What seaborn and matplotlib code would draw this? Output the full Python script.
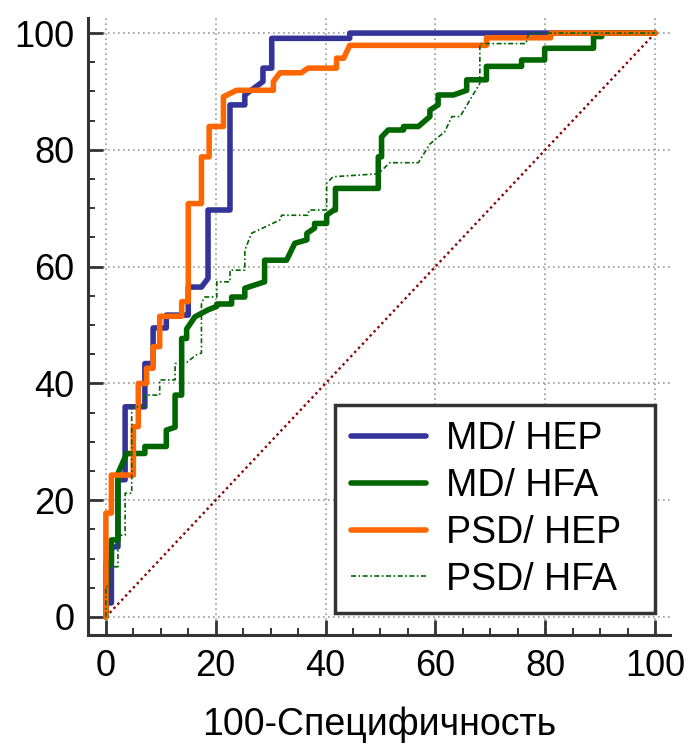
import seaborn as sns
import matplotlib.pyplot as plt
from matplotlib.ticker import MultipleLocator

# ROC curve vertices (100-specificity, sensitivity)
md_hep = [(0, 0), (0, 2.4), (1, 2.4), (1, 12), (2.2, 12), (2.2, 23.5), (3.5, 23.5),
          (3.5, 36), (7.1, 36), (7.1, 43.4), (8.6, 43.4), (8.6, 49.5), (11, 49.5),
          (11, 51.7), (15, 51.7), (15, 56.5), (17.4, 56.5), (18.6, 58), (18.6, 69.7),
          (22.6, 69.7), (22.6, 87.7), (25.3, 87.7), (25.3, 89.4), (28.6, 91.7),
          (28.6, 94), (30.2, 94), (30.2, 99.1), (44.4, 99.1), (44.4, 100), (100, 100)]

md_hfa = [(0, 0), (0, 9.2), (1, 9.2), (1, 13.2), (2.2, 13.2), (2.2, 24.6), (3.8, 28),
          (7.1, 28), (7.1, 29.2), (11, 29.2), (11, 32), (12.6, 32.5), (12.6, 38),
          (13.8, 38), (13.8, 47.7), (14.7, 47.7), (14.7, 49.3), (16.2, 51.4),
          (18.6, 52.6), (20.2, 53.2), (20.2, 53.6), (22.9, 53.6), (22.9, 54.8),
          (25.3, 54.8), (25.3, 56.3), (28.9, 57.4), (28.9, 61.1), (32.9, 61.1),
          (34.4, 64), (36.6, 64.6), (36.6, 65.7), (38, 66.6), (38, 67.4), (40.2, 67.4),
          (40.2, 68.8), (41.5, 69.7), (41.8, 69.7), (41.8, 73.4), (49.6, 73.4),
          (49.6, 78.8), (50.2, 78.8), (50.2, 82.2), (51.4, 83.4), (54.2, 83.4),
          (54.2, 84), (56.9, 84), (59, 85.7), (59, 86.8), (60.5, 87.7), (60.5, 89.4),
          (63.3, 89.4), (65.7, 90.2), (65.7, 92), (69.3, 92), (69.3, 94.3), (75.7, 94.3),
          (75.7, 95.4), (79.9, 95.4), (79.9, 97.4), (88.8, 97.4), (88.8, 99.4),
          (90.3, 99.4), (90.3, 100), (100, 100)]

psd_hep = [(0, 0), (0, 17.8), (1, 17.8), (1, 24.3), (5, 24.3), (5, 32.6), (5.9, 32.6),
           (5.9, 40), (7.4, 40), (7.4, 42.6), (8.6, 42.6), (8.6, 46.3), (9.8, 46.3),
           (9.8, 51.5), (13.8, 51.5), (13.8, 54), (15, 54), (15, 70.8), (17.4, 70.8),
           (17.4, 78.8), (18.8, 78.8), (18.8, 84), (21.4, 84), (21.4, 89.1),
           (23.8, 90.2), (30.5, 90.2), (30.5, 91.7), (31.7, 93.2), (35.6, 93.2),
           (36.8, 94), (42, 94), (42, 95.7), (43.3, 95.7), (44.4, 97.9), (69.3, 97.9),
           (69.3, 99.2), (81, 99.2), (81, 100), (100, 100)]

psd_hfa = [(0, 0), (0, 5.2), (0.7, 5.2), (0.7, 8.6), (2.2, 8.6), (2.2, 14), (3.5, 14),
           (3.5, 21.2), (4.7, 21.2), (4.7, 36), (7.1, 36), (7.1, 38), (9.8, 38),
           (9.8, 40.6), (12.6, 40.6), (12.6, 43.4), (14.7, 43.6), (16.5, 44.9),
           (17.4, 45.2), (17.4, 53.8), (18, 54.8), (20.2, 54.8), (20.2, 57.4),
           (22.6, 57.4), (22.6, 59.4), (25.3, 59.4), (25.3, 62.8), (26.5, 65.7),
           (31.7, 68), (32, 68.8), (36.8, 68.8), (37, 69.7), (40.2, 69.7), (40.2, 74.3),
           (41.4, 75.4), (49.6, 75.9), (51.7, 77.8), (56.9, 77.8), (59, 81),
           (61.7, 83.1), (63, 85.7), (64.5, 85.7), (68.1, 91.4), (68.1, 98.2),
           (76.5, 98.2), (77, 100), (100, 100)]

diag = [(0, 0), (100, 100)]
ticks = [0, 20, 40, 60, 80, 100]

sns.set_style("white")
plt.rcParams['font.family'] = ['Liberation Sans', 'DejaVu Sans']
plt.rcParams['text.color'] = 'black'

fig = plt.figure(figsize=(6.9, 7.46), dpi=100)
ax = fig.add_axes([0.128, 0.1487, 0.8436, 0.8273])


def draw(points, **kw):
    xs = [p[0] for p in points]
    ys = [p[1] for p in points]
    sns.lineplot(x=xs, y=ys, estimator=None, sort=False, ax=ax, **kw)


draw(diag, color='#8B0000', linestyle=(0, (1, 1.4)), lw=1.7, legend=False)
draw(md_hep, color='#333399', lw=4, label='MD/ HEP')
draw(md_hfa, color='#006600', lw=4, label='MD/ HFA')
draw(psd_hep, color='#FF6600', lw=4, label='PSD/ HEP')
draw(psd_hfa, color='#006600', lw=1.2, linestyle=(0, (3, 1.5, 1, 1.5)), label='PSD/ HFA')

ax.set_xlim(-3.2, 102.8)
ax.set_ylim(-3.1, 102.6)
ax.set_xticks(ticks)
ax.set_yticks(ticks)
ax.xaxis.set_minor_locator(MultipleLocator(5))
ax.yaxis.set_minor_locator(MultipleLocator(5))
ax.set_axisbelow(True)
ax.grid(True, which='major', linestyle=(0, (1, 2)), color='#999999', lw=1.2)

for s in ['top', 'right']:
    ax.spines[s].set_visible(False)
for s in ['left', 'bottom']:
    ax.spines[s].set_color('#333333')
    ax.spines[s].set_linewidth(2.2)

ax.tick_params(which='both', left=True, bottom=True, direction='in', color='#333333')
ax.tick_params(which='major', length=11, width=2, labelsize=26, pad=10,
               labelcolor='black')
ax.tick_params(which='minor', length=5, width=1.4)

ax.set_xlabel('100-Специфичность', fontsize=27, labelpad=16, color='black')
ax.set_ylabel('')

leg = ax.legend(loc='lower left', bbox_to_anchor=(0.4237, 0.0353, 0.5498, 0.33),
                mode='expand', borderaxespad=0, fancybox=False, framealpha=1,
                edgecolor='#333333', fontsize=27, handlelength=2.0,
                handletextpad=0.55, labelspacing=0.29, borderpad=0.42)
leg.get_frame().set_linewidth(2.5)
for t in leg.get_texts():
    t.set_color('black')

plt.savefig('out.png', dpi=100)
